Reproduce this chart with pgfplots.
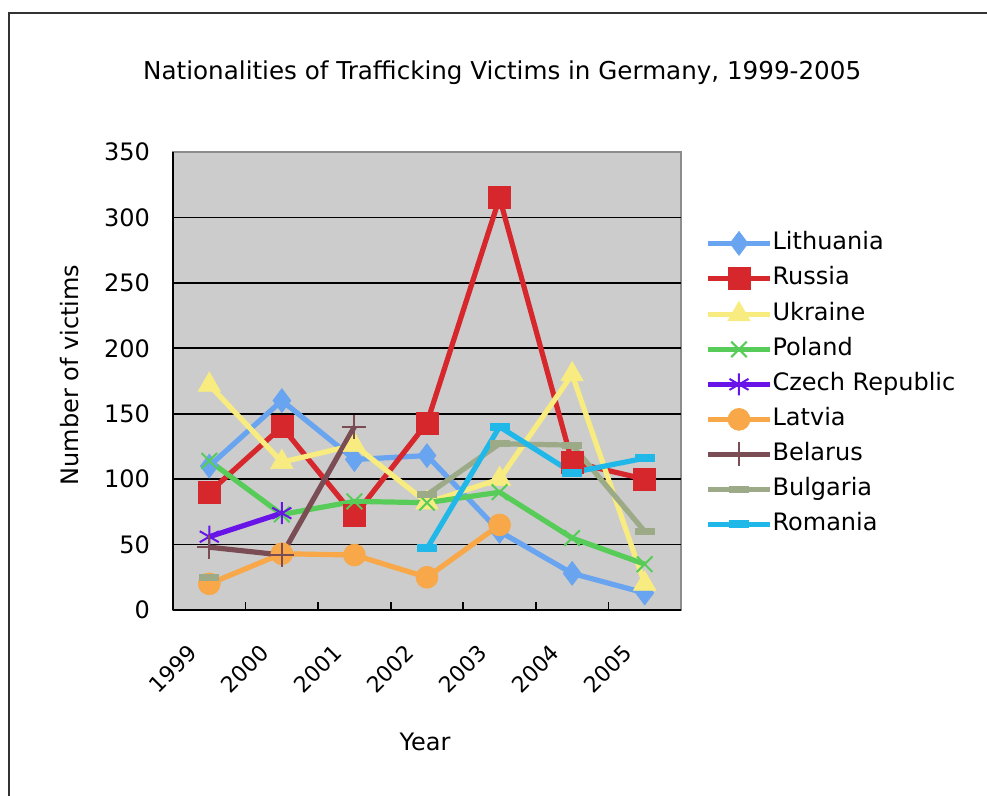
\documentclass[border=0pt]{standalone}
\usepackage{pgfplots}
\pgfplotsset{compat=1.18}
\usepackage{fontspec}
\setmainfont{DejaVu Sans}

\definecolor{bggray}{RGB}{204,204,204}
\definecolor{clith}{RGB}{104,164,240}
\definecolor{crus}{RGB}{214,40,44}
\definecolor{cukr}{RGB}{248,236,128}
\definecolor{cpol}{RGB}{88,204,88}
\definecolor{ccze}{RGB}{104,20,232}
\definecolor{clat}{RGB}{248,168,72}
\definecolor{cbel}{RGB}{122,76,84}
\definecolor{cbul}{RGB}{156,170,136}
\definecolor{crom}{RGB}{32,184,232}

\begin{document}
\begin{tikzpicture}
\useasboundingbox (-86.5pt,-93pt) rectangle (407pt,305pt);
\draw[line width=1.3pt, black!80] (-82pt,-95pt) -- (-82pt,298.5pt) -- (410pt,298.5pt);
\begin{axis}[
    at={(0,0)}, anchor=south west,
    scale only axis,
    width=254pt, height=229pt,
    font=\fontsize{12}{14}\selectfont,
    /pgf/number format/assume math mode=true,
    xmin=-0.5, xmax=6.5,
    ymin=0, ymax=350,
    axis lines*=left,
    axis line style={black, line width=1.2pt},
    axis background/.style={fill=bggray, draw=black!45, line width=0.6pt},
    xtick={0,...,6},
    xticklabels={1999,2000,2001,2002,2003,2004,2005},
    minor xtick={0.5,1.5,...,5.5},
    major tick length=0pt,
    minor tick length=4pt,
    tick align=inside,
    minor tick style={black, line width=0.8pt},
    xticklabel style={font=\fontsize{11}{13}\selectfont, xshift=-6pt, yshift=-17pt, rotate=45, anchor=east},
    ytick={50,100,...,300},
    extra y ticks={0,350},
    extra y tick style={grid=none},
    ymajorgrids,
    grid style={black, line width=0.9pt},
    yticklabel style={xshift=-8pt},
    title={Nationalities of Trafficking Victims in Germany, 1999-2005},
    title style={font=\fontsize{12.3}{14}\selectfont, at={(axis description cs:0.648,1.146)}, anchor=center},
    xlabel={Year},
    xlabel style={at={(axis description cs:0.496,-0.288)}, anchor=center},
    ylabel={Number of victims},
    ylabel style={at={(axis description cs:-0.203,0.513)}, anchor=center},
    unbounded coords=jump,
    every axis plot/.append style={line width=2.6pt},
    legend cell align=left,
    legend style={at={(axis description cs:1,1)}, anchor=north west,
        xshift=12pt, yshift=-39.5pt, draw=none, fill=none, inner sep=0pt,
        row sep=5.5pt, column sep=0pt,
        nodes={inner sep=0pt, text height=9pt, text depth=3pt}},
    legend image code/.code={\draw[mark repeat=2, mark phase=2]
        plot coordinates {(0pt,0pt) (15.5pt,0pt) (31pt,0pt)};},
]
\addplot[clith, mark=diamond*, mark size=6pt, mark options={solid, line width=0.3pt}]
    coordinates {(0,110)(1,160)(2,115)(3,118)(4,60)(5,28)(6,13)};
\addlegendentry{Lithuania}
\addplot[crus, mark=square*, mark size=5.5pt, mark options={solid, line width=0.3pt}]
    coordinates {(0,90)(1,140)(2,72)(3,143)(4,315)(5,113)(6,100)};
\addlegendentry{Russia}
\addplot[cukr, mark=triangle*, mark size=6.5pt, mark options={solid, line width=0.3pt}]
    coordinates {(0,172)(1,113)(2,126)(3,82)(4,100)(5,180)(6,20)};
\addlegendentry{Ukraine}
\addplot[cpol, mark=x, mark size=5.5pt, mark options={solid, line width=1pt}]
    coordinates {(0,114)(1,73)(2,83)(3,82)(4,90)(5,55)(6,35)};
\addlegendentry{Poland}
\addplot[ccze, mark=asterisk, mark size=5.5pt, mark options={solid, line width=1pt}]
    coordinates {(0,56)(1,74)};
\addlegendentry{Czech Republic}
\addplot[clat, mark=*, mark size=5.5pt, mark options={solid, line width=0.3pt}]
    coordinates {(0,20)(1,43)(2,42)(3,25)(4,65)};
\addlegendentry{Latvia}
\addplot[cbel, mark=+, mark size=6pt, mark options={solid, line width=1pt}]
    coordinates {(0,48)(1,42)(2,140)};
\addlegendentry{Belarus}
\addplot[cbul, mark=-, mark size=5pt, mark options={solid, line width=3.5pt}]
    coordinates {(0,25)(1,nan)(2,nan)(3,88)(4,127)(5,126)(6,60)};
\addlegendentry{Bulgaria}
\addplot[crom, mark=-, mark size=5pt, mark options={solid, line width=4pt}]
    coordinates {(3,47)(4,140)(5,105)(6,116)};
\addlegendentry{Romania}
\end{axis}
\end{tikzpicture}
\end{document}
